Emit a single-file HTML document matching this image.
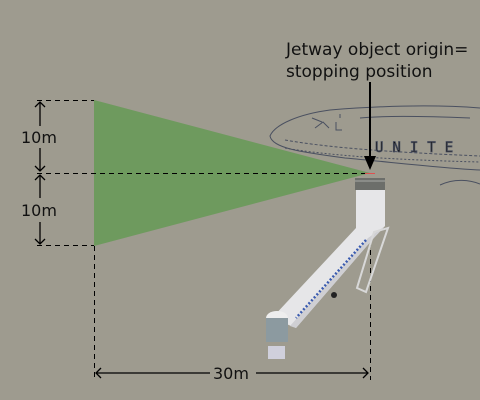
<!DOCTYPE html>
<html><head><meta charset="utf-8"><style>
html,body{margin:0;padding:0;background:#9e9b8f;}
svg{display:block}
text{font-family:"DejaVu Sans","Liberation Sans",sans-serif;fill:#111}
</style></head><body>
<svg width="480" height="400" viewBox="0 0 480 400">
<rect width="480" height="400" fill="#9e9b8f"/>
<!-- airplane outline -->
<g fill="none" stroke="#4a5060" stroke-width="1">
<path d="M480,108 C430,104 380,106 330,110 C300,114 275,124 270,136 C272,148 300,152 345,158 C390,162 440,168 480,170"/>
<path d="M285,140 C330,148 390,152 480,156" stroke-dasharray="3,2"/>
<path d="M285,148 C330,156 400,160 480,162" stroke-dasharray="2,2"/>
<text x="375" y="152" font-size="14" letter-spacing="9" fill="none" stroke="#4a5060" stroke-width="0.8" style="font-family:'DejaVu Sans Mono',monospace">UNITE</text>
<path d="M315,128 l8,-6 l6,6 M336,122 l0,8 l6,0 M340,118 l0,-4 M312,118 l10,4"/>
<path d="M440,185 C455,178 470,180 480,184"/>
<path d="M360,118 C380,116 420,116 470,118"/>
</g>
<!-- green field of view -->
<polygon points="94,100 94,246 370,173" fill="#6e9a5e"/>
<!-- dashed guide lines -->
<g stroke="#000" stroke-width="1" stroke-dasharray="5,4" fill="none">
<line x1="37" y1="100.5" x2="94" y2="100.5"/>
<line x1="37" y1="173.5" x2="370" y2="173.5"/>
<line x1="37" y1="245.5" x2="94" y2="245.5"/>
<line x1="94.5" y1="246" x2="94.5" y2="378"/>
<line x1="370.5" y1="178" x2="370.5" y2="380"/>
</g>
<!-- jetway -->
<g>
<rect x="355" y="178" width="30" height="12" fill="#6c6e6a"/>
<rect x="355" y="180" width="30" height="2" fill="#8a8c88"/>
<polygon points="356,190 385,190 385,226 372,240 296,328 272,318 356,228" fill="#e6e6e8"/>
<polygon points="385,226 372,240 296,328 290,326 368,238" fill="#cfcfd3"/>
<g stroke="#3a5bb0" stroke-width="2.5" stroke-dasharray="2,2">
<line x1="366" y1="240" x2="296" y2="318"/>
</g>
<polygon points="374,232 388,228 366,292 357,288" fill="none" stroke="#d8d8d8" stroke-width="2"/>
<ellipse cx="277" cy="318" rx="11" ry="7" fill="#eeeeee"/>
<rect x="266" y="318" width="22" height="24" fill="#8c9aa0"/>
<rect x="268" y="346" width="17" height="13" fill="#d0d0dc"/>
<circle cx="334" cy="295" r="3" fill="#222"/>
</g>
<line x1="365" y1="173.5" x2="375" y2="173.5" stroke="#e05050" stroke-width="1"/>
<!-- vertical 10m arrows -->
<g stroke="#000" stroke-width="1.3">
<line x1="40" y1="103" x2="40" y2="126"/>
<line x1="40" y1="148" x2="40" y2="170"/>
<line x1="40" y1="176" x2="40" y2="198"/>
<line x1="40" y1="222" x2="40" y2="243"/>
<path d="M35,107 L40,102 L45,107 M35,166 L40,171 L45,166 M35,180 L40,175 L45,180 M35,239 L40,244 L45,239" fill="none"/>
</g>
<text x="21" y="143" font-size="16">10m</text>
<text x="21" y="216" font-size="16">10m</text>
<!-- horizontal 30m arrow -->
<g stroke="#000" stroke-width="1.3">
<line x1="96" y1="373" x2="210" y2="373"/>
<line x1="256" y1="373" x2="368" y2="373"/>
<path d="M101,368 L96,373 L101,378 M363,368 L368,373 L363,378" fill="none"/>
</g>
<text x="213" y="379" font-size="16">30m</text>
<!-- annotation -->
<text x="286" y="55" font-size="17">Jetway object origin=</text>
<text x="286" y="77" font-size="17">stopping position</text>
<line x1="370" y1="82" x2="370" y2="158" stroke="#000" stroke-width="2"/>
<polygon points="364,156 376,156 370,170" fill="#000"/>
</svg>
</body></html>
